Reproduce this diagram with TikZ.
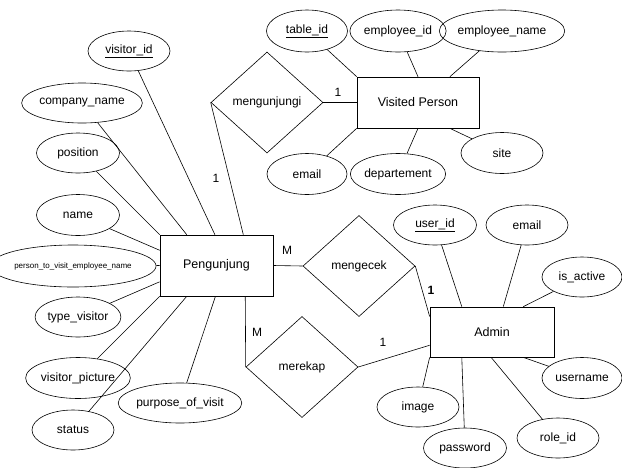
\documentclass[tikz,border=0pt]{standalone}
\usepackage{fontspec}
\setmainfont{Liberation Sans}
\usetikzlibrary{shapes.geometric}

\begin{document}
\begin{tikzpicture}[x=1pt,y=-1pt,
    entity/.style={draw,rectangle,inner sep=0pt,line width=0.7pt,font=\fontsize{12.5}{15}\selectfont},
    attr/.style={draw,ellipse,inner sep=0pt,minimum height=40pt,line width=0.6pt,font=\fontsize{12}{14}\selectfont},
    rel/.style={draw,diamond,inner sep=0pt,minimum width=112pt,minimum height=101pt,line width=0.6pt,font=\fontsize{12}{14}\selectfont},
    card/.style={inner sep=0pt,font=\fontsize{12}{14}\selectfont}]
  \useasboundingbox (0,0) rectangle (622,467);
  % entities
  \node[entity,minimum width=113pt,minimum height=61pt] (peng) at (216.5,265.5) {Pengunjung};
  \node[entity,minimum width=122pt,minimum height=51pt] (vp) at (418,102.5) {Visited Person};
  \node[entity,minimum width=124pt,minimum height=50pt] (admin) at (492,332) {Admin};
  % relations
  \node[rel] (mengunjungi) at (267,102.5) {mengunjungi};
  \node[rel] (mengecek) at (359,266) {mengecek};
  \node[rel] (merekap) at (302,367) {merekap};
  % attributes of Pengunjung
  \node[attr,minimum width=82pt] (visitorid) at (129,51) {\underline{visitor\_id}};
  \node[attr,minimum width=92pt] (company) at (82,103) {company\_name};
  \node[attr,minimum width=83pt] (position) at (78,153) {position};
  \node[attr,minimum width=83pt,minimum height=41pt] (name) at (78,215) {name};
  \node[attr,minimum width=133pt,minimum height=42pt,font=\fontsize{8}{10}\selectfont] (persontovisit) at (73,266) {person\_to\_visit\_employee\_name};
  \node[attr,minimum width=83pt] (typevisitor) at (78,317) {type\_visitor};
  \node[attr,minimum width=84pt,minimum height=41pt] (picture) at (78,378) {visitor\_picture};
  \node[attr,minimum width=82pt] (status) at (73,430) {status};
  \node[attr,minimum width=104pt] (purpose) at (180,403) {purpose\_of\_visit};
  % attributes of Visited Person
  \node[attr,minimum width=81pt,minimum height=42pt] (tableid) at (307,31) {\underline{table\_id}};
  \node[attr,minimum width=84pt,minimum height=42pt] (employeeid) at (398,31) {employee\_id};
  \node[attr,minimum width=103pt,minimum height=42pt] (employeename) at (502,31) {employee\_name};
  \node[attr,minimum width=80pt,minimum height=41pt] (vpemail) at (307,174) {email};
  \node[attr,minimum width=83pt,minimum height=41pt] (departement) at (398,174) {departement};
  \node[attr,minimum width=82pt,minimum height=41pt] (site) at (502,153) {site};
  % attributes of Admin
  \node[attr,minimum width=83pt] (userid) at (435,225) {\underline{user\_id}};
  \node[attr,minimum width=82pt] (adminemail) at (527,225) {email};
  \node[attr,minimum width=80pt] (isactive) at (582,277) {is\_active};
  \node[attr,minimum width=80pt,minimum height=41pt] (username) at (582,378) {username};
  \node[attr,minimum width=82pt] (roleid) at (558,438) {role\_id};
  \node[attr,minimum width=83pt] (password) at (465,448) {password};
  \node[attr,minimum width=82pt] (image) at (418,407) {image};
  % cardinalities
  \node[card] (c1) at (216,178) {1};
  \node[card] (c2) at (338,92) {1};
  \node[card] (c3) at (287,250) {M};
  \node[card] (c4) at (257,332) {M};
  \node[card,font=\fontsize{12}{14}\selectfont\bfseries] (c5) at (431,290) {1};
  \node[card] (c6) at (383,342) {1};
  \begin{scope}[line width=0.6pt]
    \draw (visitorid) to (peng.93);
    \draw (company) to (peng.134);
    \draw (position) to (peng.north west);
    \draw (name) to (peng.165);
    \draw (persontovisit) to (peng.west);
    \draw (typevisitor) to (peng.196);
    \draw (picture) to (peng.south west);
    \draw (status) to (peng.226);
    \draw (purpose) to (peng.268);
    \draw (mengunjungi.west) to (peng.49);
    \draw (peng.east) to (mengecek.west);
    \draw (peng.313) to (merekap.west);
    \draw (tableid) to (vp.north west);
    \draw (employeeid) to (vp.north);
    \draw (employeename) to (vp.39);
    \draw (mengunjungi.east) to (vp.west);
    \draw (vpemail) to (vp.south west);
    \draw (departement) to (vp.south);
    \draw (site) to (vp.321);
    \draw (userid) to (admin.140);
    \draw (adminemail) to (admin.66);
    \draw (isactive) to (admin.39);
    \draw (username) to (admin.321);
    \draw (roleid) to (admin.268);
    \draw (password) to (admin.220);
    \draw (image) to (admin.south west);
    \draw (mengecek.east) to (admin.166);
    \draw (merekap.east) to (admin.192);
  \end{scope}
\end{tikzpicture}
\end{document}
